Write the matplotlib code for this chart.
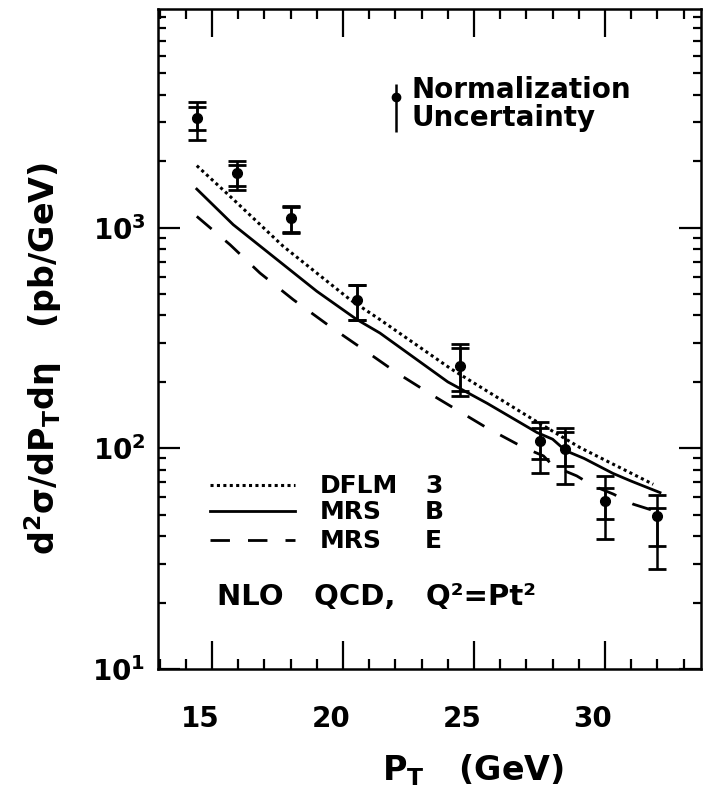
import matplotlib
matplotlib.use("Agg")
import matplotlib.pyplot as plt
import matplotlib.transforms as mtransforms
from matplotlib.ticker import FixedLocator, LogLocator, NullFormatter, MultipleLocator
import numpy as np

plt.rcParams["font.family"] = ["DejaVu Sans"]
plt.rcParams["font.weight"] = "bold"
plt.rcParams["axes.labelweight"] = "bold"
plt.rcParams["mathtext.fontset"] = "custom"
plt.rcParams["mathtext.rm"] = "DejaVu Sans:bold"
plt.rcParams["mathtext.it"] = "DejaVu Sans:bold"
plt.rcParams["mathtext.bf"] = "DejaVu Sans:bold"
plt.rcParams["mathtext.default"] = "rm"

# measured points: pt, cross section, stat and total errors (up/down edges)
pt_data = [14.42, 15.94, 18.0, 20.55, 24.47, 27.52, 28.47, 30.0, 31.97]
xs_data = [3136, 1768, 1106, 472, 235.6, 108, 99, 57.8, 49.4]
stat_hi = [3539, 1928, 1240, 552, 286, 124, 118, 66.4, 53.9]
stat_lo = [2776, 1549, 960, 381, 182, 89, 83, 47.7, 36.1]
tot_hi = [3729, 2010, 1257, 552, 296, 131, 124, 75, 61.2]
tot_lo = [2500, 1486, 946, 381, 173, 77.6, 68.7, 38.7, 28.3]

# NLO QCD predictions
pt_dflm = [14.42, 15.69, 17.72, 20.27, 21.4, 24.1, 27.26, 29.05, 31.84]
xs_dflm = [1910, 1387, 823, 472, 384, 230, 135, 100.7, 68.7]

pt_mrsb = [14.42, 15.81, 17.09, 19.0, 20.52, 21.41, 24.0, 25.5, 27.4, 28.0, 28.5, 29.2, 30.3, 31.0, 32.1]
xs_mrsb = [1496, 1032, 781, 515, 384, 333, 200, 160, 118, 110, 97.5, 90, 77, 71, 63]

pt_mrse = [14.42, 15.69, 16.83, 18.1, 19.5, 20.77, 22.05, 23.45, 25.48, 26.88, 27.65, 28.03,
           28.92, 29.55, 30.32, 31.08, 31.9]
xs_mrse = [1125, 837, 623, 472, 357, 281, 220, 173, 124, 101, 92.4, 83,
           75, 67.6, 62, 55.8, 52]

x_ticks = [15, 20, 25, 30]
y_ticks = [10, 100, 1000]
y_ticklabels = ["$10^{1}$", "$10^{2}$", "$10^{3}$"]

fig = plt.figure(figsize=(7.06, 8.0), dpi=100)
ax = fig.add_axes([0.2238, 0.1638, 0.769, 0.825])

pt_data = np.array(pt_data)
xs_data = np.array(xs_data)

ax.errorbar(pt_data, xs_data,
            yerr=[xs_data - np.array(tot_lo), np.array(tot_hi) - xs_data],
            fmt="none", ecolor="black", elinewidth=1.8, capsize=6.5, capthick=2.0)
ax.errorbar(pt_data, xs_data,
            yerr=[xs_data - np.array(stat_lo), np.array(stat_hi) - xs_data],
            fmt="o", color="black", ms=7, elinewidth=1.8, capsize=6.5, capthick=2.0)

ax.plot(pt_dflm, xs_dflm, color="black", lw=2.2, linestyle=(0, (1.0, 1.1)))
ax.plot(pt_mrsb, xs_mrsb, color="black", lw=2.0, linestyle="-")
ax.plot(pt_mrse, xs_mrse, color="black", lw=2.0, linestyle=(0, (7, 6.5)))

ax.set_yscale("log")
ax.set_xlim(12.94, 33.66)
ax.set_ylim(10, 9800)

ax.xaxis.set_major_locator(FixedLocator(x_ticks))
ax.xaxis.set_minor_locator(MultipleLocator(1))
ax.yaxis.set_major_locator(FixedLocator(y_ticks))
ax.yaxis.set_minor_locator(LogLocator(base=10, subs=np.arange(2, 10)))
ax.yaxis.set_minor_formatter(NullFormatter())
ax.set_yticklabels(y_ticklabels)

ax.tick_params(axis="both", which="both", direction="in", top=True, right=True,
               width=1.6, colors="black")
ax.tick_params(axis="x", which="major", length=20, labelsize=20, pad=26)
ax.tick_params(axis="x", which="minor", length=7)
ax.tick_params(axis="y", which="major", length=16, labelsize=20, pad=9)
ax.tick_params(axis="y", which="minor", length=5.5)
for spine in ax.spines.values():
    spine.set_linewidth(1.8)

shift = mtransforms.ScaledTranslation(-0.12, 0, fig.dpi_scale_trans)
for lbl in ax.get_xticklabels():
    lbl.set_transform(lbl.get_transform() + shift)

# normalization uncertainty marker
ax.errorbar([0.438], [0.867], yerr=[[0.053], [0.019]], transform=ax.transAxes,
            fmt="o", color="black", ms=6, elinewidth=1.8, capsize=0)
ax.text(0.466, 0.865, "Normalization", transform=ax.transAxes, fontsize=20,
        ha="left", va="baseline")
ax.text(0.466, 0.822, "Uncertainty", transform=ax.transAxes, fontsize=20,
        ha="left", va="baseline")

# curve key
key_y = [0.279, 0.239, 0.195]
key_styles = [(0, (1.0, 1.1)), "-", (0, (7, 6.5))]
key_names = ["DFLM", "MRS", "MRS"]
key_sets = ["3", "B", "E"]
for yk, ls, nm, st in zip(key_y, key_styles, key_names, key_sets):
    ax.plot([0.096, 0.252], [yk, yk], transform=ax.transAxes, color="black",
            lw=2.2 if nm == "DFLM" else 2.0, linestyle=ls)
    ax.text(0.298, yk - 0.012, nm, transform=ax.transAxes, fontsize=18,
            ha="left", va="baseline")
    ax.text(0.492, yk - 0.012, st, transform=ax.transAxes, fontsize=18,
            ha="left", va="baseline")
ax.text(0.109, 0.097, "NLO   QCD,   Q²=Pt²", transform=ax.transAxes, fontsize=21,
        ha="left", va="baseline")

ax.set_ylabel(r"d$^2\sigma$/dP$_{T}$d$\eta$   (pb/GeV)", fontsize=24)
ax.yaxis.set_label_coords(64 / 706, 0.5, transform=fig.transFigure)
ax.yaxis.label.set_y((800 - 358) / 800)

fig.text(473 / 706, 1 - 780 / 800, r"P$_{T}$   (GeV)", fontsize=24,
         ha="center", va="baseline")

fig.savefig("out.png", dpi=100)
